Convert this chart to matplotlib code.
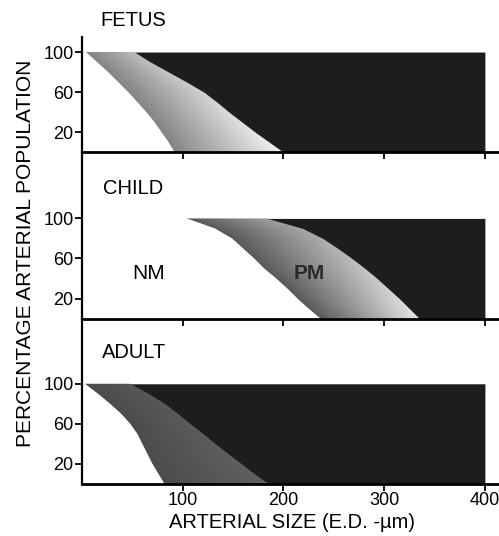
import numpy as np
import matplotlib
matplotlib.use('Agg')
import matplotlib.pyplot as plt

plt.rcParams['font.family'] = ['Liberation Sans', 'DejaVu Sans']

# boundary positions (arterial size, um) at each population level (%)
y_levels = [0, 10, 20, 30, 40, 50, 60, 70, 80, 90, 100]
max_size = 400

# NM = non-muscular / PM = partially muscular boundary, PM / muscular boundary
fetus_nm = [92, 86, 79, 72, 64, 55, 46, 36, 26, 15, 4]
fetus_pm = [200, 186, 172, 159, 146, 134, 121, 104, 86, 68, 52]
child_nm = [237, 225, 214, 204, 193, 181, 171, 160, 149, 132, 104]
child_pm = [335, 325, 315, 304, 293, 281, 268, 254, 239, 219, 184]
adult_nm = [82, 76, 70, 65, 60, 55, 48, 39, 28, 16, 3]
adult_pm = [185, 171, 158, 145, 132, 120, 107, 95, 82, 66, 48]

panels = ['FETUS', 'CHILD', 'ADULT']
x_ticks = [100, 200, 300, 400]
y_ticks = [20, 60, 100]

# (nm, pm, dark shade, light shade, top of axes)
setup = [
    (fetus_nm, fetus_pm, 0.52, 0.95, 115),
    (child_nm, child_pm, 0.35, 0.90, 166),
    (adult_nm, adult_pm, 0.30, 0.38, 165),
]

fig = plt.figure(figsize=(4.99, 5.36), dpi=100)
left, right = 82 / 499, 1.0
bottom, top = 1 - 484 / 536, 1 - 37 / 536
total = sum(s[4] for s in setup)
height = top - bottom

y_cur = top
axes = []
for (nm, pm, dark, light, ytop) in setup:
    h = height * ytop / total
    ax = fig.add_axes([left, y_cur - h, right - left, h])
    y_cur -= h
    axes.append(ax)

    ax.set_xlim(0, 414)
    ax.set_ylim(0, ytop)

    # black region: fully muscular
    ax.fill_betweenx(y_levels, pm, max_size, color='#1e1c1d', lw=0, zorder=2)

    # gray region: partially muscular, shaded dark -> light
    poly = ax.fill_betweenx(y_levels, nm, pm, color='none', lw=0)
    gx = np.linspace(0, max_size, 400)
    gy = np.linspace(0, 100, 200)
    X, Y = np.meshgrid(gx, gy)
    lo = np.interp(Y, y_levels, nm)
    hi = np.interp(Y, y_levels, pm)
    t = np.clip((X - lo) / (hi - lo), 0, 1)
    t = t * (0.5 + 0.5 * (1 - Y / 100))
    shade = dark + (light - dark) * t
    im = ax.imshow(shade, extent=[0, max_size, 0, 100], origin='lower',
                   cmap='gray', vmin=0, vmax=1, aspect='auto', zorder=1)
    im.set_clip_path(poly.get_paths()[0], transform=ax.transData)

    ax.spines['top'].set_visible(False)
    ax.spines['right'].set_visible(False)
    ax.spines['left'].set_linewidth(1.6)
    ax.spines['bottom'].set_linewidth(2.0)
    ax.spines['bottom'].set_zorder(5)
    ax.set_yticks(y_ticks)
    ax.set_xticks(x_ticks)
    ax.tick_params(direction='out', length=5, width=1.3, labelsize=13, pad=1)
    ax.patch.set_alpha(0)

for ax in axes[:-1]:
    ax.tick_params(labelbottom=False)

axes[1].text(66, 45, 'NM', fontsize=15, ha='center', va='center')
axes[1].text(226, 45, 'PM', fontsize=15, ha='center', va='center',
             fontweight='bold', color='#2a2a2a', zorder=4)

fig.text(100 / 499, 1 - 21 / 536, panels[0], fontsize=14.5, va='center')
fig.text(103 / 499, 1 - 188 / 536, panels[1], fontsize=14.5, va='center')
fig.text(102 / 499, 1 - 353 / 536, panels[2], fontsize=14.5, va='center')

fig.text(26 / 499, 1 - 253 / 536, 'PERCENTAGE ARTERIAL POPULATION',
         rotation=90, fontsize=15, ha='center', va='center')
fig.text(292 / 499, 1 - 523 / 536, 'ARTERIAL SIZE (E.D. -\u00b5m)',
         fontsize=14.5, ha='center', va='center')

fig.savefig('out.png', dpi=100)
